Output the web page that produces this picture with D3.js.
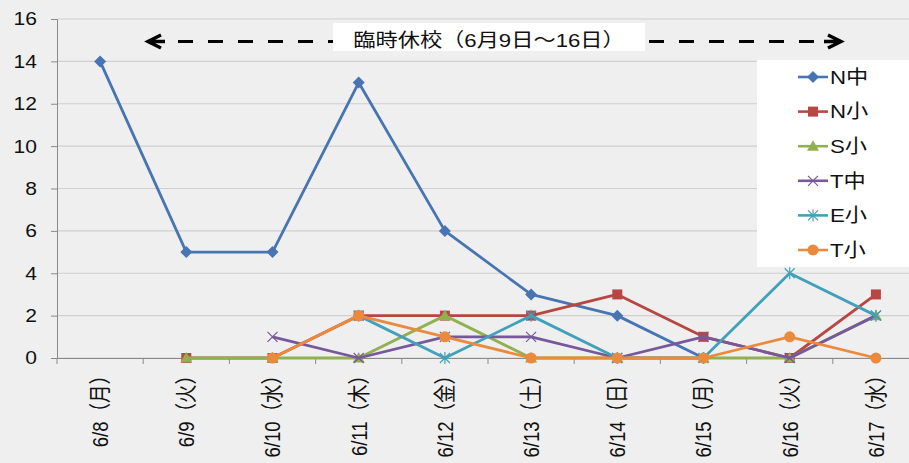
<!DOCTYPE html>
<html><head><meta charset="utf-8">
<script src="https://cdn.jsdelivr.net/npm/d3@7"></script>
<style>body{margin:0;background:#efefef;overflow:hidden}svg{display:block}</style>
</head><body><svg id="c" width="909" height="463"></svg>
<script>
const categories = ["6/8（月）","6/9（火）","6/10（水）","6/11（木）","6/12（金）","6/13（土）","6/14（日）","6/15（月）","6/16（火）","6/17（水）"];
const seriesNames = ["N中","N小","S小","T中","E小","T小"];
const nChu = [14,5,5,13,6,3,2,0,null,null];
const nSho = [null,0,0,2,2,2,3,1,0,3];
const sSho = [null,0,0,0,2,0,0,0,0,2];
const tChu = [null,null,1,0,1,1,0,1,0,2];
const eSho = [null,null,null,2,0,2,0,0,4,2];
const tSho = [null,null,0,2,1,0,0,0,1,0];
const yTicks = [0,2,4,6,8,10,12,14,16];
const annotation = "臨時休校（6月9日～16日）";

const seriesValues = [nChu,nSho,sSho,tChu,eSho,tSho];
const colors = ["#4775B3","#B84643","#91B04F","#77599B","#42A1BA","#EB8A3C"];
const markers = ["diamond","square","triangle","x","asterisk","circle"];

const SX = 1.17;
const FONT = "'Liberation Sans', Arial, 'Noto Sans CJK JP', sans-serif";
const svg = d3.select("#c");
const x = d3.scaleBand().domain(categories).range([57, 57 + 86.2*10]);
const y = d3.scaleLinear().domain([0,16]).range([358, 19]);

// gridlines
svg.append("g").selectAll("line").data(yTicks).join("line")
  .attr("x1", 57).attr("x2", 909).attr("y1", d=>y(d)).attr("y2", d=>y(d))
  .attr("stroke", "#cfcfcf").attr("stroke-width", 1.2);

// y axis
const ya = svg.append("g").attr("transform","translate(57,0)")
  .call(d3.axisLeft(y).tickValues(yTicks).tickSize(6).tickFormat(""));
ya.select(".domain").attr("stroke","#8a8a8a");
ya.selectAll(".tick line").attr("stroke","#8a8a8a");
svg.append("g").selectAll("text").data(yTicks).join("text")
  .attr("transform", d=>`translate(37,${y(d)}) scale(${SX},1)`)
  .attr("dy","0.36em").attr("text-anchor","end")
  .attr("font-family",FONT).attr("font-size",18).attr("fill","#111")
  .text(d=>d);

// x axis
const xa = svg.append("g").attr("transform",`translate(0,${y(0)})`)
  .call(d3.axisBottom(x).tickSize(0).tickFormat(""));
xa.select(".domain").attr("stroke","#8a8a8a");
svg.append("g").selectAll("line").data(categories).join("line")
  .attr("x1", d=>x(d)).attr("x2", d=>x(d))
  .attr("y1", y(0)).attr("y2", y(0)+6).attr("stroke","#8a8a8a");
svg.append("g").selectAll("text").data(categories).join("text")
  .attr("transform", d=>`translate(${x(d)+x.bandwidth()/2},366) rotate(-90) scale(1,1.2)`)
  .attr("dy","0.36em").attr("text-anchor","end")
  .attr("font-family",FONT).attr("font-size",18.5).attr("fill","#111")
  .text(d=>d);

// marker drawing
function drawMarker(g, type, color) {
  if (type === "diamond") g.append("path").attr("d","M0,-6L6,0L0,6L-6,0Z").attr("fill",color);
  else if (type === "square") g.append("rect").attr("x",-5).attr("y",-5).attr("width",10).attr("height",10).attr("fill",color);
  else if (type === "triangle") g.append("path").attr("d","M0,-6L6,4.5L-6,4.5Z").attr("fill",color);
  else if (type === "circle") g.append("circle").attr("r",5.5).attr("fill",color);
  else if (type === "x") g.append("path").attr("d","M-5,-5L5,5M-5,5L5,-5").attr("stroke",color).attr("stroke-width",1.2).attr("fill","none");
  else if (type === "asterisk") g.append("path").attr("d","M-5,-5L5,5M-5,5L5,-5M0,-6L0,6").attr("stroke",color).attr("stroke-width",1.2).attr("fill","none");
}

const line = d3.line().defined(d=>d.v!==null).x(d=>x(d.c)+x.bandwidth()/2).y(d=>y(d.v));
seriesValues.forEach((vals, i) => {
  const pts = vals.map((v,j)=>({c:categories[j], v}));
  const g = svg.append("g");
  g.append("path").datum(pts).attr("d", line).attr("fill","none")
    .attr("stroke", colors[i]).attr("stroke-width", 2.8).attr("stroke-linejoin","round");
  pts.filter(p=>p.v!==null).forEach(p=>{
    const m = g.append("g").attr("transform",`translate(${x(p.c)+x.bandwidth()/2},${y(p.v)})`);
    drawMarker(m, markers[i], colors[i]);
  });
});

// annotation
const ann = svg.append("g");
ann.append("path").attr("d","M178,41.5L333,41.5").attr("stroke","#000").attr("stroke-width",3).attr("stroke-dasharray","15,15");
ann.append("path").attr("d","M649,41.5L815,41.5").attr("stroke","#000").attr("stroke-width",3).attr("stroke-dasharray","15,15");
ann.append("path").attr("d","M161,35L148,41.5L161,48M148,41.5L165,41.5").attr("stroke","#000").attr("stroke-width",3.5).attr("fill","none").attr("stroke-linejoin","miter");
ann.append("path").attr("d","M828,35L841,41.5L828,48M824,41.5L841,41.5").attr("stroke","#000").attr("stroke-width",3.5).attr("fill","none").attr("stroke-linejoin","miter");
ann.append("rect").attr("x",333).attr("y",23).attr("width",312).attr("height",28).attr("fill","#fff");
ann.append("text").attr("transform",`translate(489,47) scale(${SX},1)`)
  .attr("text-anchor","middle").attr("font-family",FONT).attr("font-size",19).attr("fill","#111")
  .text(annotation);

// legend
const lg = svg.append("g");
lg.append("rect").attr("x",757).attr("y",60).attr("width",160).attr("height",207).attr("fill","#fff");
seriesNames.forEach((name,i)=>{
  const ly = 77 + i*34.6;
  const row = lg.append("g");
  row.append("line").attr("x1",798).attr("x2",828).attr("y1",ly).attr("y2",ly).attr("stroke",colors[i]).attr("stroke-width",2.6);
  drawMarker(row.append("g").attr("transform",`translate(813,${ly})`), markers[i], colors[i]);
  row.append("text").attr("transform",`translate(830,${ly}) scale(${SX},1)`).attr("dy","0.36em")
    .attr("font-family",FONT).attr("font-size",19).attr("fill","#111").text(name);
});
</script></body></html>
